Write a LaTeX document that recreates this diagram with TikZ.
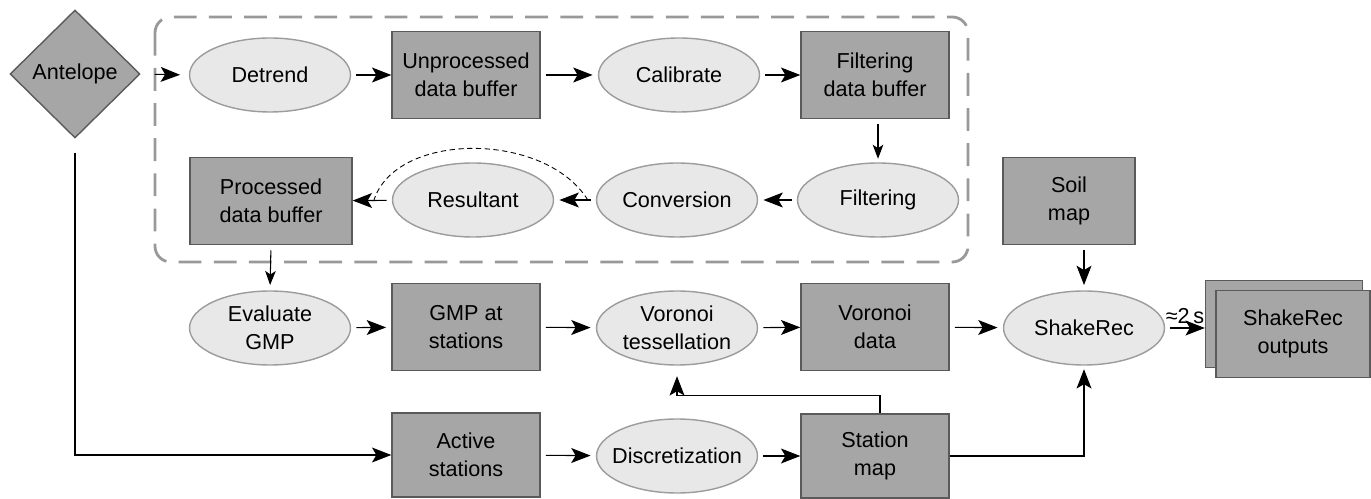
\documentclass[tikz,border=0pt]{standalone}
\usepackage{fontspec}
\setmainfont{Liberation Sans}
\usepackage{xcolor}
\usetikzlibrary{shapes.geometric, arrows.meta, positioning}

\definecolor{boxgray}{HTML}{A6A6A6}
\definecolor{boxline}{HTML}{5A5A5A}
\definecolor{ellgray}{HTML}{E8E8E8}
\definecolor{ellline}{HTML}{9C9C9C}
\definecolor{framegray}{HTML}{999999}

\tikzset{
	txt/.style={font=\fontsize{12.3}{16}\selectfont, align=center, text=black},
	bufbox/.style={txt, draw=boxline, fill=boxgray, line width=0.8pt, minimum width=2.96cm, minimum height=1.74cm, inner sep=0pt},
	procell/.style={txt, ellipse, draw=ellline, fill=ellgray, line width=0.8pt, minimum width=3.22cm, minimum height=1.48cm, inner xsep=-12pt, inner ysep=0pt},
	srcdiam/.style={txt, diamond, draw=boxline, fill=boxgray, line width=0.8pt, minimum width=2.6cm, minimum height=2.56cm, inner sep=0pt},
	flow/.style={-{Stealth[length=11pt,width=8.5pt,inset=2.5pt]}, black, line width=0.6pt, shorten <=3pt},
	flowsm/.style={-{Stealth[length=8pt,width=6pt,inset=2pt]}, black, line width=0.6pt, shorten <=3pt},
	grpframe/.style={draw=framegray, line width=1.6pt, dash pattern=on 13pt off 7pt, rounded corners=9pt}
}

\begin{document}
\begin{tikzpicture}[x=0.02cm, y=-0.02cm]
	\useasboundingbox (0,0) rectangle (1371,499);
	
	\draw[grpframe] (155,17) rectangle (968,262);
	
	\node[srcdiam] (antelope) at (75,74) {Antelope};
	
	\node[procell] (detrend) at (270,75) {Detrend};
	\node[bufbox] (unproc) at (466,75) {Unprocessed\\data buffer};
	\node[procell] (calib) at (679,75) {Calibrate};
	\node[bufbox] (filtbuf) at (875,75) {Filtering\\data buffer};
	
	\node[procell] (filt) at (878,200) {Filtering};
	\node[procell] (conv) at (677,200) {Conversion};
	\node[procell] (result) at (473,200) {Resultant};
	\node[bufbox, minimum width=3.24cm] (procbuf) at (271,201) {Processed\\data buffer};
	\node[bufbox, minimum width=2.64cm] (soil) at (1069,201) {Soil\\map};
	
	\node[procell] (evalgmp) at (270,328) {Evaluate\\GMP};
	\node[bufbox] (gmpsta) at (466,327) {GMP at\\stations};
	\node[procell] (voronoi) at (677,328) {Voronoi\\tessellation};
	\node[bufbox] (vordata) at (875,327) {Voronoi\\data};
	\node[procell] (shake) at (1084,328) {ShakeRec};
	\node[bufbox, minimum width=3.14cm] (outback) at (1284,324) {};
	\node[bufbox, minimum width=3.08cm] (outfront) at (1293,334) {ShakeRec\\outputs};
	
	\node[bufbox, minimum height=1.68cm] (active) at (466,455) {Active\\stations};
	\node[procell] (discr) at (677,456) {Discretization};
	\node[bufbox, minimum height=1.68cm] (stamap) at (875,456) {Station\\map};
	
	% first row
	\draw[flow, shorten <=8pt, shorten >=5pt] (antelope.east) -- (detrend.west);
	\draw[flow] (detrend) -- (unproc);
	\draw[flow, shorten >=3pt] (unproc) -- (calib);
	\draw[flow] (calib) -- (filtbuf);
	\draw[flowsm, shorten >=2pt] (filtbuf.south -| filt.north) -- (filt.north);
	
	% second row
	\draw[flow, shorten >=3pt] (filt) -- (conv);
	\draw[flow, shorten >=3pt] (conv) -- (result);
	\draw[flow] (result) -- (procbuf);
	\draw[densely dashed, line width=0.5pt] ([xshift=-0.16cm]conv.west) .. controls (545,131) and (395,131) .. ([xshift=0.42cm]procbuf.east);
	\draw[flowsm, shorten >=3pt] (procbuf.south) -- (evalgmp.north);
	\draw[flow, shorten >=3pt] (soil.south -| shake.north) -- (shake.north);
	
	% third row
	\draw[flow, shorten >=3pt] (evalgmp) -- (gmpsta);
	\draw[flow, shorten >=3pt] (gmpsta) -- (voronoi);
	\draw[flow] (voronoi) -- (vordata);
	\draw[flow, shorten >=3pt] (vordata) -- (shake);
	\draw[flow] (shake.east) -- (shake.east -| outback.west) node[midway, above, txt, inner sep=2pt] {≈2\,s};
	
	% fourth row
	\draw[flow, shorten <=8pt] (antelope.south) |- (active.west);
	\draw[flow, shorten >=3pt] (active) -- (discr);
	\draw[flow] (discr) -- (stamap);
	\draw[flow, shorten <=0pt, shorten >=6pt] ([xshift=0.1cm]stamap.north) -- ++(0,-18) -| (voronoi.south);
	\draw[flow, shorten <=0pt, shorten >=2pt] (stamap.east) -| (shake.south);
\end{tikzpicture}
\end{document}
